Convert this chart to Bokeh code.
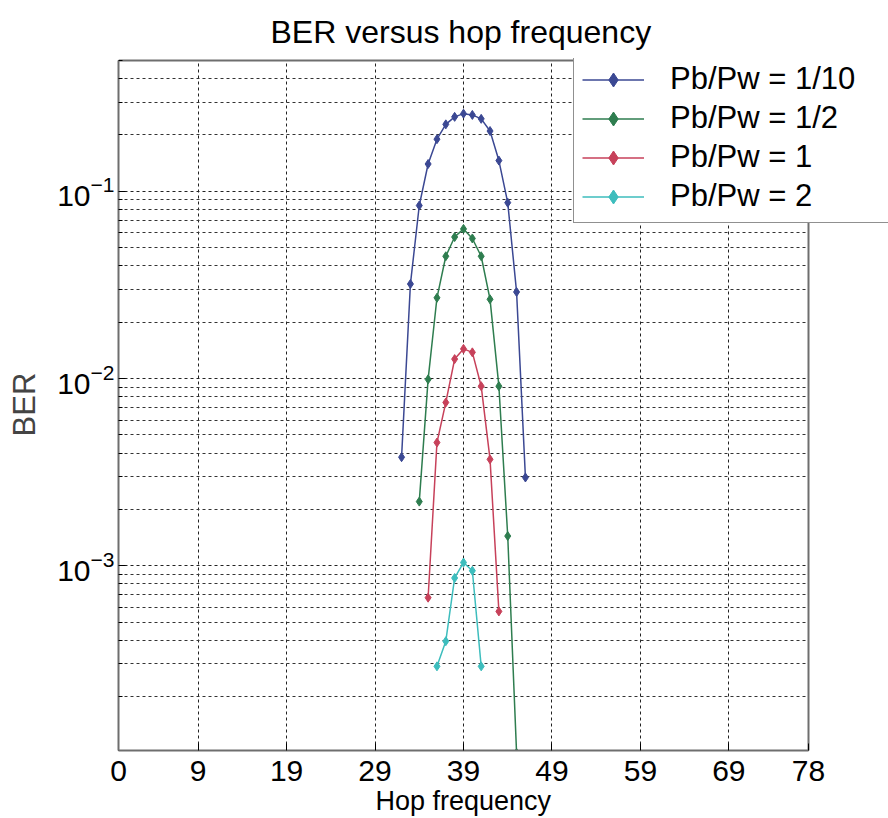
from bokeh.plotting import figure
from bokeh.models import (FixedTicker, LogTickFormatter, Legend, LegendItem,
                          Range1d, Title)
from bokeh.embed import file_html
from bokeh.resources import INLINE

# ---------------- data ----------------
hop_blue = [32, 33, 34, 35, 36, 37, 38, 39, 40, 41, 42, 43, 44, 45, 46]
ber_blue = [3.8e-3, 0.032, 0.084, 0.14, 0.19, 0.228, 0.25, 0.26, 0.256,
            0.244, 0.21, 0.146, 0.087, 0.029, 2.96e-3]

hop_green = [34, 35, 36, 37, 38, 39, 40, 41, 42, 43, 44, 45]
ber_green = [2.2e-3, 9.9e-3, 0.027, 0.045, 0.057, 0.063, 0.056, 0.045,
             0.0265, 9.1e-3, 1.44e-3, 1.0e-4]

hop_red = [35, 36, 37, 38, 39, 40, 41, 42, 43]
ber_red = [6.75e-4, 4.55e-3, 7.45e-3, 0.0127, 0.0144, 0.0138, 9.1e-3,
           3.7e-3, 5.7e-4]

hop_cyan = [36, 37, 38, 39, 40, 41]
ber_cyan = [2.9e-4, 3.95e-4, 8.6e-4, 1.04e-3, 9.4e-4, 2.9e-4]

series_labels = ["Pb/Pw = 1/10", "Pb/Pw = 1/2", "Pb/Pw = 1", "Pb/Pw = 2"]
x_ticks = [0, 9, 19, 29, 39, 49, 59, 69, 78]
y_major = [1e-3, 1e-2, 1e-1]

# ---------------- style / layout ----------------
FONT = "Liberation Sans"
colors = ["#3B4893", "#2E7D4F", "#C7415A", "#3DBDBD"]
BOX = "#6e6e6e"

X_MIN, X_MAX = 0, 78
Y_MIN, Y_MAX = 1.03e-4, 0.5
# the drawing frame runs on to the page's right edge so that the legend
# can overhang the axes box (as in the original); the box itself ends at 78
FRAME_LEFT, BOX_RIGHT, PAGE_W = 118, 808, 888
x_view_end = X_MAX + (PAGE_W - BOX_RIGHT) * (X_MAX - X_MIN) / (BOX_RIGHT - FRAME_LEFT)
# a little head-room above the box so its top edge is not clipped
y_view_end = Y_MAX * 1.025

p = figure(width=PAGE_W, height=818, y_axis_type="log",
           x_range=Range1d(X_MIN, x_view_end), y_range=Range1d(Y_MIN, y_view_end),
           output_backend="svg", toolbar_location=None,
           min_border_left=FRAME_LEFT, min_border_right=0,
           min_border_top=58, min_border_bottom=68)

p.title.text = "BER versus hop frequency"
p.title.align = "left"
p.title.offset = 152
p.title.standoff = 17
p.title.text_font = FONT
p.title.text_font_size = "32px"
p.title.text_font_style = "normal"
p.title.text_color = "black"

p.outline_line_color = None
p.background_fill_color = "white"
p.border_fill_color = "white"

minor = [m * 10.0 ** e for e in (-4, -3, -2, -1) for m in range(2, 10)]

for ax in p.xaxis:
    ax.ticker = FixedTicker(ticks=x_ticks)
    ax.bounds = (X_MIN, X_MAX)
    ax.major_label_text_font = FONT
    ax.major_label_text_font_size = "30px"
    ax.major_label_text_color = "black"
    ax.major_tick_in = 7
    ax.major_tick_out = 0
    ax.axis_line_color = BOX
    ax.axis_line_width = 2
    ax.major_label_standoff = 10

for ax in p.yaxis:
    ax.ticker = FixedTicker(ticks=y_major, minor_ticks=minor)
    ax.formatter = LogTickFormatter()
    ax.bounds = (Y_MIN, Y_MAX)
    ax.major_label_text_font = FONT
    ax.major_label_text_font_size = "30px"
    ax.major_label_text_color = "black"
    ax.major_tick_in = 7
    ax.major_tick_out = 0
    ax.minor_tick_in = 4
    ax.minor_tick_out = 0
    ax.axis_line_color = BOX
    ax.axis_line_width = 2
    ax.axis_label = "BER"
    ax.axis_label_text_font = FONT
    ax.axis_label_text_font_size = "31px"
    ax.axis_label_text_font_style = "normal"
    ax.axis_label_standoff = 12
    ax.major_label_standoff = 4

# x-axis title, centred under the axes box (not under the wider frame)
p.add_layout(Title(text="Hop frequency", align="left", offset=257,
                   vertical_align="bottom", standoff=0, text_font=FONT,
                   text_font_size="27px", text_font_style="normal",
                   text_color="black"), "below")

p.xgrid.ticker = FixedTicker(ticks=x_ticks)
p.xgrid.grid_line_color = "#222222"
p.xgrid.grid_line_dash = "3 3"
p.xgrid.cross_bounds = (Y_MIN, Y_MAX)
p.ygrid.grid_line_color = "#222222"
p.ygrid.grid_line_dash = "3 3"
p.ygrid.minor_grid_line_color = "#333333"
p.ygrid.minor_grid_line_dash = "3 3"
p.ygrid.cross_bounds = (X_MIN, X_MAX)

# top and right edges of the axes box (left/bottom are the axis lines)
p.multi_line(xs=[[X_MIN, X_MAX, X_MAX]], ys=[[Y_MAX, Y_MAX, Y_MIN * 0.9]],
             line_color=BOX, line_width=2)

series = [(hop_blue, ber_blue), (hop_green, ber_green),
          (hop_red, ber_red), (hop_cyan, ber_cyan)]
items = []
for (xs, ys), c, lab in zip(series, colors, series_labels):
    r1 = p.line(xs, ys, line_color=c, line_width=1.5)
    r2 = p.scatter(xs, ys, marker="diamond", size=9, fill_color=c,
                   line_color=c)
    items.append(LegendItem(label=lab, renderers=[r1, r2]))

legend = Legend(items=items, location=(455, 527))
legend.label_text_font = FONT
legend.label_text_font_size = "31px"
legend.label_text_color = "black"
legend.glyph_width = 62
legend.glyph_height = 35
legend.label_standoff = 26
legend.label_height = 35
legend.label_width = 210
legend.spacing = 3
legend.padding = 8
legend.margin = 0
legend.border_line_color = "#222222"
legend.border_line_width = 1
legend.background_fill_color = "white"
legend.background_fill_alpha = 1.0
p.add_layout(legend, "center")

open("out.html", "w").write(file_html(p, INLINE))
